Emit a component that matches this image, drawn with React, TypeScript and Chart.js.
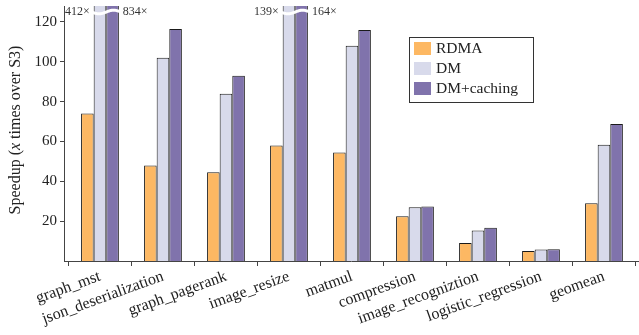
import React, { useEffect, useRef } from 'react';
import { Chart, registerables } from 'chart.js';

Chart.register(...registerables);

const categories = [
  'graph_mst',
  'json_deserialization',
  'graph_pagerank',
  'image_resize',
  'matmul',
  'compression',
  'image_recogniztion',
  'logistic_regression',
  'geomean',
];
const rdma = [74, 48, 44.5, 58, 54.5, 22.5, 9, 5, 29];
const dm = [412, 102, 84, 139, 108, 27, 15.3, 5.8, 58.3];
const dmCaching = [834, 116.5, 93, 164, 116, 27.3, 16.7, 5.9, 68.8];
const seriesLabels = ['RDMA', 'DM', 'DM+caching'];
const seriesColors = ['#fdb863', '#d8daeb', '#8073ac'];
const yTicks = [20, 40, 60, 80, 100, 120];
const yMax = 128;

const FONT = "'Liberation Serif', 'Times New Roman', serif";

const overlayPlugin = {
  id: 'overlay',
  afterDatasetsDraw(chart: any) {
    const ctx = chart.ctx;
    const area = chart.chartArea;
    const m1 = chart.getDatasetMeta(1);
    const m2 = chart.getDatasetMeta(2);
    const d1 = chart.data.datasets[1].data.map((p: any) => p.y);
    const d2 = chart.data.datasets[2].data.map((p: any) => p.y);
    const y = area.top + 6;
    for (let j = 0; j < d1.length; j++) {
      if (d1[j] <= yMax && d2[j] <= yMax) continue;
      const b1 = m1.data[j];
      const b2 = m2.data[j];
      const x0 = b1.x - b1.width / 2;
      const x1 = b2.x + b2.width / 2;
      ctx.save();
      ctx.beginPath();
      const start = x0 - 2;
      const end = x1 + 2;
      for (let x = start; x <= end; x += 0.5) {
        const yy = y + 1.8 * Math.sin(((x - start) / (end - start)) * Math.PI * 2);
        if (x === start) ctx.moveTo(x, yy);
        else ctx.lineTo(x, yy);
      }
      ctx.strokeStyle = '#ffffff';
      ctx.lineWidth = 3;
      ctx.stroke();
      ctx.font = `12px ${FONT}`;
      ctx.fillStyle = '#333';
      ctx.textBaseline = 'middle';
      ctx.textAlign = 'right';
      ctx.fillText(`${d1[j]}×`, x0 - 4, y);
      ctx.textAlign = 'left';
      ctx.fillText(`${d2[j]}×`, x1 + 4, y);
      ctx.restore();
    }

    // legend box
    ctx.save();
    const lx = 409, ly = 37, lw = 124, lh = 65;
    ctx.fillStyle = '#fff';
    ctx.fillRect(lx, ly, lw, lh);
    ctx.strokeStyle = '#333';
    ctx.lineWidth = 1;
    ctx.strokeRect(lx + 0.5, ly + 0.5, lw, lh);
    ctx.font = `15.5px ${FONT}`;
    ctx.textAlign = 'left';
    ctx.textBaseline = 'middle';
    chart.data.datasets.forEach((ds: any, i: number) => {
      const cy = ly + 11 + i * 20;
      ctx.fillStyle = ds.backgroundColor;
      ctx.fillRect(lx + 5, cy - 6, 17, 13);
      ctx.fillStyle = '#222';
      ctx.fillText(ds.label, lx + 27, cy + 1);
    });
    ctx.restore();

    // y title with italic x
    ctx.save();
    const cx = 16;
    const cyc = 130;
    ctx.translate(cx, cyc);
    ctx.rotate(-Math.PI / 2);
    const parts = [
      { t: 'Speedup (', f: `16px ${FONT}` },
      { t: 'x', f: `italic 16px ${FONT}` },
      { t: ' times over S3)', f: `16px ${FONT}` },
    ];
    let total = 0;
    parts.forEach((p) => {
      ctx.font = p.f;
      total += ctx.measureText(p.t).width;
    });
    let px = -total / 2;
    ctx.fillStyle = '#222';
    ctx.textBaseline = 'middle';
    ctx.textAlign = 'left';
    parts.forEach((p) => {
      ctx.font = p.f;
      ctx.fillText(p.t, px, 0);
      px += ctx.measureText(p.t).width;
    });
    ctx.restore();
  },
};

export default function App() {
  const ref = useRef<HTMLCanvasElement | null>(null);
  useEffect(() => {
    document.body.style.margin = '0';
    const canvas = ref.current;
    if (!canvas) return;
    const values = [rdma, dm, dmCaching];
    const chart = new Chart(canvas, {
      type: 'bar',
      data: {
        datasets: values.map((v, i) => ({
          label: seriesLabels[i],
          data: v.map((y, k) => ({ x: k, y })),
          backgroundColor: seriesColors[i],
          borderColor: '#1a1a1a',
          borderWidth: 1,
          categoryPercentage: 0.6,
          barPercentage: 1,
        })),
      },
      options: {
        responsive: false,
        animation: false,
        devicePixelRatio: 1,
        layout: { padding: { top: 6, right: 1, left: 0, bottom: 0 } },
        plugins: {
          legend: { display: false },
          tooltip: { enabled: false },
        },
        scales: {
          x: {
            type: 'linear',
            min: -0.571,
            max: 8.54,
            offset: false,
            grid: {
              display: true,
              drawOnChartArea: false,
              drawTicks: true,
              tickLength: 5,
              color: '#444',
            },
            border: { display: true, color: '#444', width: 1 },
            afterBuildTicks(scale: any) {
              scale.ticks = categories.map((_, k) => ({ value: k }));
            },
            ticks: {
              autoSkip: false,
              minRotation: 20,
              maxRotation: 20,
              color: '#222',
              padding: 1,
              font: { family: FONT, size: 16 },
              callback: (v: any) => categories[v as number] ?? '',
            },
            afterFit(scale: any) {
              scale.height = 74;
            },
          },
          y: {
            min: 0,
            max: yMax,
            grid: {
              display: true,
              drawOnChartArea: false,
              drawTicks: true,
              tickLength: 4,
              color: '#444',
            },
            border: { display: true, color: '#444', width: 1 },
            afterBuildTicks(scale: any) {
              scale.ticks = yTicks.map((v) => ({ value: v }));
            },
            ticks: {
              color: '#222',
              padding: 3,
              font: { family: FONT, size: 15 },
            },
            afterFit(scale: any) {
              scale.width = 64;
              scale.paddingTop = 0;
              scale.paddingBottom = 0;
            },
          },
        },
      },
      plugins: [overlayPlugin],
    });
    return () => chart.destroy();
  }, []);
  return (
    <div style={{ width: 639, height: 335 }}>
      <canvas ref={ref} width={639} height={335} />
    </div>
  );
}
